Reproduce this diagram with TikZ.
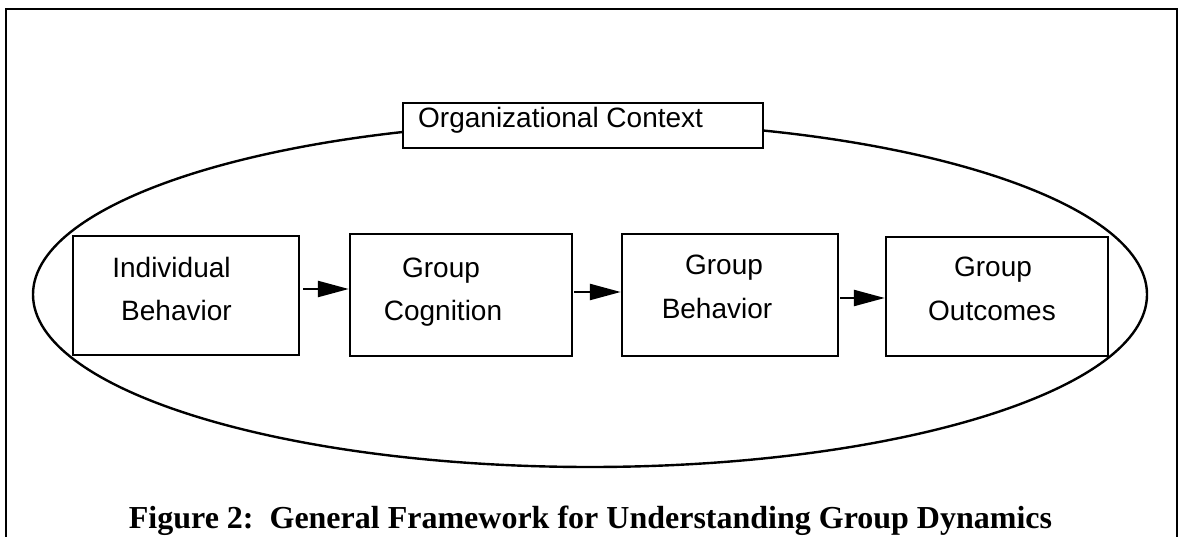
\documentclass[tikz,border=0pt]{standalone}
\usepackage{fontspec}
\setmainfont{Liberation Serif}
\setsansfont{Liberation Sans}
\usetikzlibrary{shapes.geometric,arrows.meta}
\begin{document}
\begin{tikzpicture}[x=1pt,y=-1pt,
  line width=2.4pt,
  stagebox/.style={draw, rectangle, inner sep=0pt, minimum width=#1},
  boxtext/.style={anchor=base, inner sep=0pt, font=\sffamily\fontsize{28}{28}\selectfont},
  flow/.style={-{Triangle[length=31pt,width=16pt]}, line width=2.4pt}
]
\useasboundingbox (0,0) rectangle (1178,537);

% open frame around the figure
\draw (6,540) -- (6,9) -- (1177,9) -- (1177,540);

% organizational context
\node[draw, ellipse, inner sep=0pt, minimum width=1114pt, minimum height=345pt] (context) at (590,294.5) {};
\node[draw, fill=white, rectangle, inner sep=0pt, minimum width=360pt, minimum height=45pt] (ctxlabel) at (583,125.5) {};
\node[boxtext, anchor=base west] (ctxtext) at (417,128) {Organizational Context};

% stages
\node[stagebox=226pt, minimum height=119pt] (indiv) at (186,295.5) {};
\node[stagebox=222pt, minimum height=122pt] (gcog) at (461,295) {};
\node[stagebox=216pt, minimum height=122pt] (gbeh) at (730,295) {};
\node[stagebox=222pt, minimum height=119pt] (gout) at (997,296.5) {};

\node[boxtext] (t1a) at (171.5,278) {Individual};
\node[boxtext] (t1b) at (176.5,321) {Behavior};
\node[boxtext] (t2a) at (441,278) {Group};
\node[boxtext] (t2b) at (443,320) {Cognition};
\node[boxtext] (t3a) at (724,275) {Group};
\node[boxtext] (t3b) at (717,319) {Behavior};
\node[boxtext] (t4a) at (993,277) {Group};
\node[boxtext] (t4b) at (992,320) {Outcomes};

% flow between stages
\draw[flow] ([xshift=3pt]indiv.east |- 0,289) -- (gcog.west |- 0,289);
\draw[flow] ([xshift=1pt]gcog.east |- 0,292) -- (gbeh.west |- 0,292);
\draw[flow] ([xshift=1pt]gbeh.east |- 0,298) -- (gout.west |- 0,298);

% caption
\node[anchor=base, inner sep=0pt] (caption) at (590.5,528)
  {\bfseries\fontsize{32}{32}\selectfont Figure 2:\ \ General Framework for Understanding Group Dynamics};
\end{tikzpicture}
\end{document}
